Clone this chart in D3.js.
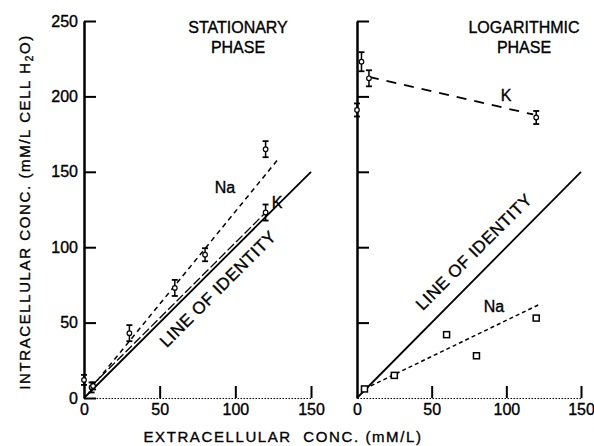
<!DOCTYPE html>
<html>
<head>
<meta charset="utf-8">
<script src="https://cdn.jsdelivr.net/npm/d3@7"></script>
<style>
  body { margin: 0; background: #fff; }
  svg { display: block; font-family: "Liberation Sans", Arial, sans-serif; }
  svg text { stroke: #000; stroke-width: 0.35; }
</style>
</head>
<body>
<div id="app"></div>
<script>
// ---- data ----
const xTicks = [0, 50, 100, 150];
const yTicks = [0, 50, 100, 150, 200, 250];

// stationary phase
const statNaX = [5, 30, 60, 80, 120];
const statNaY = [7, 43, 73, 95, 165];
const statNaErr = [2, 4, 4, 3, 4];
const statKX = [0, 6, 120];
const statKY = [12, 8, 123];
const statKErr = [2, 1, 4];
const statNaFit = [[5, 7], [128, 158]];
const statKFit = [[5, 8], [120, 123]];

// logarithmic phase
const logKX = [0, 3, 8, 120];
const logKY = [191, 223, 212, 186];
const logKErr = [3, 5, 4, 3];
const logNaX = [5, 25, 60, 80, 120];
const logNaY = [6, 15, 42, 28, 53];
const logKFit = [[8, 213], [118, 188]];
const logNaFit = [[5, 6], [122, 62]];

const identity = [[0, 0], [150, 150]];

const width = 594, height = 446;
const svg = d3.select("#app").append("svg")
  .attr("width", width).attr("height", height)
  .attr("viewBox", [0, 0, width, height]);

const y = d3.scaleLinear([0, 250], [398, 21]);
const xL = d3.scaleLinear([0, 150], [84, 311]);
const xR = d3.scaleLinear([0, 150], [357, 581]);

function drawAxes(x, showYLabels) {
  const gy = svg.append("g").attr("transform", `translate(${x(0)},0)`)
    .call(d3.axisLeft(y).tickValues(yTicks).tickSizeInner(-12).tickSizeOuter(0)
      .tickPadding(6).tickFormat(showYLabels ? d3.format("d") : () => ""));
  gy.select(".domain").attr("stroke-width", 2.5);
  gy.selectAll(".tick line").attr("stroke-width", 2);
  gy.selectAll(".tick text").attr("font-size", 16).attr("fill", "#000");
  if (!showYLabels) gy.selectAll(".tick").filter(d => d === 0).remove();

  const gx = svg.append("g").attr("transform", `translate(0,${y(0)})`)
    .call(d3.axisBottom(x).tickValues(xTicks).tickSizeInner(-12).tickSizeOuter(0)
      .tickPadding(6).tickFormat(d3.format("d")));
  gx.select(".domain").attr("stroke-width", 1.2).attr("stroke-dasharray", "1.5,1.5");
  gx.selectAll(".tick line").attr("stroke-width", 2).filter(d => d === 0).remove();
  gx.selectAll(".tick text").attr("font-size", 16).attr("fill", "#000");
}

const line = (x) => d3.line().x(d => x(d[0])).y(d => y(d[1]));

function fit(x, pts, dash, w) {
  svg.append("path").datum(pts).attr("d", line(x))
    .attr("fill", "none").attr("stroke", "#000").attr("stroke-width", w)
    .attr("stroke-dasharray", dash);
}

function errPoints(x, xs, ys, errs) {
  const g = svg.append("g").attr("stroke", "#000").attr("fill", "#fff");
  xs.forEach((xv, i) => {
    const cx = x(xv), cy = y(ys[i]);
    const top = y(ys[i] + errs[i]) - 2, bot = y(ys[i] - errs[i]) + 2;
    g.append("line").attr("x1", cx).attr("x2", cx).attr("y1", top).attr("y2", bot).attr("stroke-width", 1.5);
    g.append("line").attr("x1", cx - 3).attr("x2", cx + 3).attr("y1", top).attr("y2", top).attr("stroke-width", 1.8);
    g.append("line").attr("x1", cx - 3).attr("x2", cx + 3).attr("y1", bot).attr("y2", bot).attr("stroke-width", 1.8);
    g.append("circle").attr("cx", cx).attr("cy", cy).attr("r", 2.3).attr("stroke-width", 1.2);
  });
}

function squares(x, xs, ys) {
  svg.append("g").selectAll("rect").data(xs).join("rect")
    .attr("x", (d) => x(d) - 3).attr("y", (d, i) => y(ys[i]) - 3)
    .attr("width", 6).attr("height", 6)
    .attr("fill", "#fff").attr("stroke", "#000").attr("stroke-width", 1.5);
}

function label(txt, px, py, rot, size, ls) {
  svg.append("text").attr("transform", `translate(${px},${py}) rotate(${rot || 0})`)
    .attr("text-anchor", "middle").attr("font-size", size || 16)
    .attr("letter-spacing", ls || 0).text(txt);
}

// ---- left panel: stationary ----
drawAxes(xL, true);
fit(xL, identity, null, 1.8);
fit(xL, statKFit, "9,3", 1.3);
fit(xL, statNaFit, "5,4", 1.5);
errPoints(xL, statNaX, statNaY, statNaErr);
errPoints(xL, statKX, statKY, statKErr);
label("STATIONARY", 238, 33);
label("PHASE", 238, 53);
label("Na", 225, 193, 0, 16);
label("K", 277, 208, 0, 16);
label("LINE OF IDENTITY", 222, 293, -45, 17, 0.5);

// ---- right panel: logarithmic ----
drawAxes(xR, false);
fit(xR, identity, null, 1.8);
fit(xR, logKFit, "10,8", 1.8);
fit(xR, logNaFit, "4,3", 1.5);
errPoints(xR, logKX, logKY, logKErr);
squares(xR, logNaX, logNaY);
label("LOGARITHMIC", 524, 33);
label("PHASE", 524, 53);
label("K", 506, 101, 0, 16);
label("Na", 494, 312, 0, 16);
label("LINE OF IDENTITY", 478, 256, -45, 17, 0.5);

// axis titles
svg.append("text").attr("transform", "translate(30,212) rotate(-90)")
  .attr("text-anchor", "middle").attr("font-size", 15).attr("letter-spacing", 1.6)
  .append("tspan").text("INTRACELLULAR CONC. (mM/L CELL H")
  .append("tspan").text("2").attr("font-size", 10).attr("dy", 3)
  .select(function () { return this.parentNode; })
  .append("tspan").text("O)").attr("dy", -3);
svg.append("text").attr("x", 283).attr("y", 442)
  .attr("text-anchor", "middle").attr("font-size", 15).attr("letter-spacing", 1.6)
  .attr("xml:space", "preserve").text("EXTRACELLULAR  CONC. (mM/L)");
</script>
</body>
</html>
